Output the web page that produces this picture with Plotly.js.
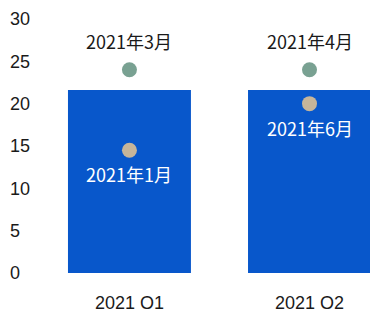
<!DOCTYPE html>
<html>
<head>
<meta charset="utf-8">
<script src="https://cdn.plot.ly/plotly-3.0.1.min.js"></script>
<style>html,body{margin:0;padding:0;background:#fff;}#chart{width:370px;height:309px;}</style>
</head>
<body>
<div id="chart"></div>
<script>
var categories = ["2021 Q1", "2021 Q2"];
var barValues = [21.6, 21.6];
var upperValues = [24, 24];
var upperLabels = ["2021年3月", "2021年4月"];
var lowerValues = [14.5, 20];
var lowerLabels = ["2021年1月", "2021年6月"];
var yTicks = [0, 5, 10, 15, 20, 25, 30];

var labelFont = "Noto Sans CJK SC, Noto Sans, sans-serif";
var axisFont = "Liberation Sans, Arial, sans-serif";

var data = [
  {type: "bar", x: categories, y: barValues, marker: {color: "#0857cb"}, width: 0.683, hoverinfo: "none"},
  {type: "scatter", mode: "markers", x: categories, y: upperValues, marker: {color: "#79a192", size: 15}, hoverinfo: "none"},
  {type: "scatter", mode: "markers", x: categories, y: lowerValues, marker: {color: "#c6b59a", size: 15}, hoverinfo: "none"}
];

var annotations = [];
categories.forEach(function (c, i) {
  annotations.push({x: c, y: upperValues[i], text: upperLabels[i], showarrow: false, yshift: 29,
    font: {family: labelFont, size: 18, color: "#1a1a1a"}});
  annotations.push({x: c, y: lowerValues[i], text: lowerLabels[i], showarrow: false, yshift: -24,
    font: {family: labelFont, size: 18, color: "#ffffff"}});
});

var layout = {
  width: 370, height: 309,
  margin: {l: 0, r: 0, t: 19, b: 36, pad: 0},
  paper_bgcolor: "#ffffff", plot_bgcolor: "#ffffff",
  showlegend: false,
  xaxis: {type: "category", range: [-0.719, 1.336], showgrid: false, zeroline: false, showline: false, ticks: "",
    tickfont: {family: axisFont, size: 18, color: "#1a1a1a"}, ticklabelstandoff: 17},
  yaxis: {range: [0, 30], tickvals: yTicks, showgrid: false, zeroline: false, showline: false, ticks: "",
    ticklabelposition: "inside", ticklabeloverflow: "allow", ticklabelstandoff: 7,
    tickfont: {family: axisFont, size: 18, color: "#1a1a1a"}},
  annotations: annotations
};

Plotly.newPlot("chart", data, layout, {displayModeBar: false, staticPlot: true});
</script>
</body>
</html>
